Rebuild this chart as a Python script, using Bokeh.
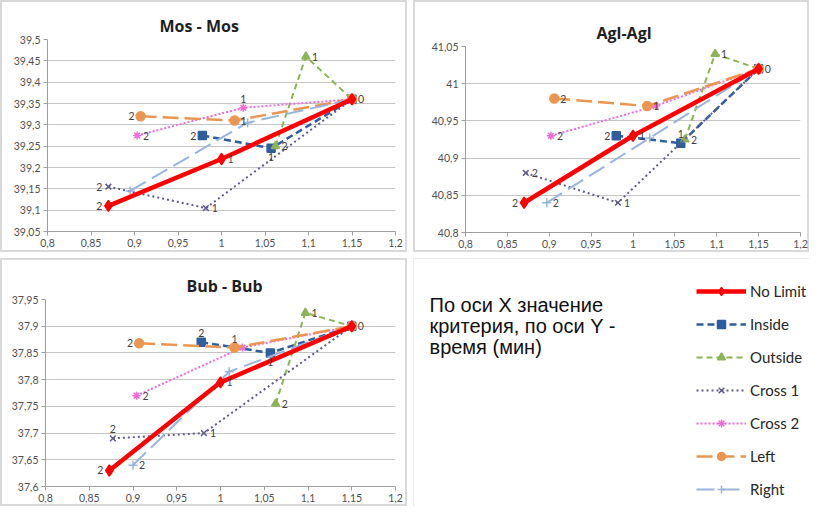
from bokeh.plotting import figure
from bokeh.layouts import row, column
from bokeh.models import (ColumnDataSource, FixedTicker, CustomJSTickFormatter, Range1d,
                          Legend, LegendItem, Label)
from bokeh.core.properties import value
from bokeh.embed import file_html
from bokeh.resources import INLINE

# ---------------- data ----------------
SERIES = ["No Limit", "Inside", "Outside", "Cross 1", "Cross 2", "Left", "Right"]
POINT_LABELS = ["2", "1", "0"]

X_TICKS = [0.8, 0.85, 0.9, 0.95, 1.0, 1.05, 1.1, 1.15, 1.2]

MOS_TITLE = "Mos - Mos"
MOS_Y_TICKS = [39.05, 39.1, 39.15, 39.2, 39.25, 39.3, 39.35, 39.4, 39.45, 39.5]
MOS_X = [
    [0.87, 1.0, 1.15],
    [0.978, 1.057, 1.15],
    [1.062, 1.097, 1.15],
    [0.87, 0.982, 1.15],
    [0.903, 1.025, 1.15],
    [0.907, 1.015, 1.15],
    [0.895, 1.03, 1.15],
]
MOS_Y = [
    [39.11, 39.22, 39.36],
    [39.275, 39.245, 39.36],
    [39.25, 39.46, 39.36],
    [39.155, 39.105, 39.36],
    [39.275, 39.34, 39.36],
    [39.32, 39.31, 39.36],
    [39.145, 39.305, 39.36],
]

AGL_TITLE = "Agl-Agl"
AGL_Y_TICKS = [40.8, 40.85, 40.9, 40.95, 41.0, 41.05]
AGL_X = [
    [0.87, 1.0, 1.15],
    [0.98, 1.057, 1.15],
    [1.062, 1.098, 1.15],
    [0.872, 0.982, 1.15],
    [0.902, 1.027, 1.15],
    [0.906, 1.017, 1.15],
    [0.897, 1.02, 1.15],
]
AGL_Y = [
    [40.84, 40.93, 41.02],
    [40.93, 40.92, 41.02],
    [40.925, 41.04, 41.02],
    [40.88, 40.84, 41.02],
    [40.93, 40.97, 41.02],
    [40.98, 40.97, 41.02],
    [40.84, 40.927, 41.02],
]

BUB_TITLE = "Bub - Bub"
BUB_Y_TICKS = [37.6, 37.65, 37.7, 37.75, 37.8, 37.85, 37.9, 37.95]
BUB_X = [
    [0.873, 1.0, 1.15],
    [0.978, 1.057, 1.15],
    [1.063, 1.097, 1.15],
    [0.877, 0.981, 1.15],
    [0.904, 1.025, 1.15],
    [0.907, 1.016, 1.15],
    [0.9, 1.01, 1.15],
]
BUB_Y = [
    [37.63, 37.795, 37.9],
    [37.87, 37.85, 37.9],
    [37.755, 37.925, 37.9],
    [37.69, 37.70, 37.9],
    [37.77, 37.86, 37.9],
    [37.868, 37.86, 37.9],
    [37.64, 37.815, 37.9],
]

NOTE_LINES = ["По оси X значение", "критерия, по оси Y -", "время (мин)"]

# ---------------- styles ----------------
STYLE = {
    "No Limit": dict(color="#FF0000", width=4.5, dash="solid", marker="diamond", size=11),
    "Inside":   dict(color="#2E5E9E", width=2.5, dash="7 4", marker="square", size=8),
    "Outside":  dict(color="#8DB454", width=2.0, dash="6 4", marker="triangle", size=8),
    "Cross 1":  dict(color="#5E5A8E", width=2.0, dash="2 3", marker="x", size=8),
    "Cross 2":  dict(color="#F06AD8", width=2.0, dash="2 2", marker="asterisk", size=8),
    "Left":     dict(color="#EB9650", width=2.5, dash="16 6", marker="circle", size=9),
    "Right":    dict(color="#98B4DC", width=2.0, dash="18 7", marker="cross", size=9),
}

# label placement per series (r=right, l=left, a=above, b=below, -=none)
PLACE = {
    "mos": ["lrr", "lb-", "rr-", "lr-", "ra-", "lr-", "---"],
    "agl": ["lrr", "la-", "rr-", "rr-", "r--", "rr-", "r--"],
    "bub": ["lrr", "ab-", "rr-", "ar-", "r--", "la-", "r--"],
}
OFFS = {"r": (6, 0, "left", "middle"), "l": (-6, 0, "right", "middle"),
        "a": (0, -5, "center", "bottom"), "b": (0, 5, "center", "top")}

TICK_FONT = "Lato"
PANEL_STYLE = {"outline": "2px solid #D9D9D9", "outline-offset": "-2px"}

fmt_code = """
var s = tick.toFixed(2);
s = s.replace(/0+$/, '').replace(/\\.$/, '');
return s.replace('.', ',');
"""


def make_panel(title, xs, ys, yticks, place, w, h, borders, title_offset):
    left, right, top, bottom = borders
    p = figure(width=w, height=h, output_backend="svg", toolbar_location=None,
               x_range=Range1d(X_TICKS[0], X_TICKS[-1]),
               y_range=Range1d(yticks[0], yticks[-1]),
               min_border_left=left, min_border_right=right,
               min_border_top=top, min_border_bottom=bottom,
               styles=PANEL_STYLE)
    p.frame_align = False
    p.title.text = title
    p.title.align = "left"
    p.title.offset = title_offset
    p.title.text_font = "Open Sans"
    p.title.text_font_size = "16px"
    p.title.text_font_style = "bold"
    p.title.text_color = "#1F1F1F"
    p.title.standoff = 5
    p.outline_line_color = None
    p.border_fill_alpha = 0
    p.xgrid.grid_line_color = None
    p.ygrid.grid_line_color = "#C4C4C4"
    p.ygrid.grid_line_width = 1
    for ax, ticks in ((p.xaxis[0], X_TICKS), (p.yaxis[0], yticks)):
        ax.ticker = FixedTicker(ticks=ticks)
        ax.formatter = CustomJSTickFormatter(code=fmt_code)
        ax.axis_line_color = "#9E9E9E"
        ax.major_tick_line_color = "#9E9E9E"
        ax.major_tick_out = 4
        ax.major_tick_in = 0
        ax.minor_tick_line_color = None
        ax.major_label_text_font = TICK_FONT
        ax.major_label_text_font_size = "10.5px"
        ax.major_label_text_color = "#505050"
        ax.major_label_standoff = 3

    order = list(range(1, len(SERIES))) + [0]
    lx, ly, lt, ldx, ldy, lal, lbl = [], [], [], [], [], [], []
    for i in order:
        name = SERIES[i]
        st = STYLE[name]
        src = ColumnDataSource(dict(x=xs[i], y=ys[i]))
        p.line("x", "y", source=src, line_color=st["color"], line_width=st["width"],
               line_dash=st["dash"])
        p.scatter("x", "y", source=src, marker=st["marker"], size=st["size"],
                  line_color=st["color"], fill_color=st["color"], line_width=1.5)
        for j, code in enumerate(place[i]):
            if code == "-":
                continue
            dx, dy, al, bl = OFFS[code]
            lx.append(xs[i][j]); ly.append(ys[i][j]); lt.append(POINT_LABELS[j])
            ldx.append(dx); ldy.append(dy); lal.append(al); lbl.append(bl)
    lsrc = ColumnDataSource(dict(x=lx, y=ly, t=lt, dx=ldx, dy=ldy, al=lal, bl=lbl))
    p.text("x", "y", text="t", source=lsrc, x_offset="dx", y_offset="dy",
           text_align="al", text_baseline="bl", text_font=value(TICK_FONT),
           text_font_size="10.5px", text_color="#404040")
    return p


p1 = make_panel(MOS_TITLE, MOS_X, MOS_Y, MOS_Y_TICKS, PLACE["mos"], 407, 252,
                (47, 12, 39, 21), 112)
p2 = make_panel(AGL_TITLE, AGL_X, AGL_Y, AGL_Y_TICKS, PLACE["agl"], 396, 252,
                (52, 9, 46, 20), 131)
p3 = make_panel(BUB_TITLE, BUB_X, BUB_Y, BUB_Y_TICKS, PLACE["bub"], 407, 248,
                (45, 12, 41, 20), 141)

# legend / note panel
W4, H4 = 396, 248
p4 = figure(width=W4, height=H4, output_backend="svg", toolbar_location=None,
            x_range=Range1d(0, 1), y_range=Range1d(0, 1),
            min_border_left=0, min_border_right=0, min_border_top=0, min_border_bottom=0,
            x_axis_location=None, y_axis_location=None, title=None,
            styles=PANEL_STYLE)
p4.frame_align = False
p4.grid.visible = False
p4.outline_line_color = None
p4.border_fill_alpha = 0

items = []
for i, name in enumerate(SERIES):
    st = STYLE[name]
    src = ColumnDataSource(dict(x=MOS_X[i], y=MOS_Y[i]))
    lr = p4.line("x", "y", source=src, line_color=st["color"], line_width=st["width"],
                 line_dash=st["dash"], visible=False)
    sr = p4.scatter("x", "y", source=src, marker=st["marker"], size=st["size"],
                    line_color=st["color"], fill_color=st["color"], line_width=1.5,
                    visible=False)
    items.append(LegendItem(label=name, renderers=[lr, sr]))

legend = Legend(items=items, location=(283, 7), orientation="vertical",
                glyph_width=50, glyph_height=20, label_standoff=4, spacing=13,
                padding=0, margin=0, border_line_color=None, background_fill_alpha=0,
                label_text_font="Lato", label_text_font_size="15px",
                label_text_color="#262626", click_policy="none")
p4.add_layout(legend)

for k, line in enumerate(NOTE_LINES):
    p4.add_layout(Label(x=16, y=202 - 21 * k, x_units="screen", y_units="screen",
                        text=line, text_font="Liberation Sans", text_font_size="20px",
                        text_color="#111111", text_baseline="middle", text_align="left"))

layout = column(row(p1, p2, spacing=6), row(p3, p4, spacing=6), spacing=6)

open("out.html", "w").write(file_html(layout, INLINE))
